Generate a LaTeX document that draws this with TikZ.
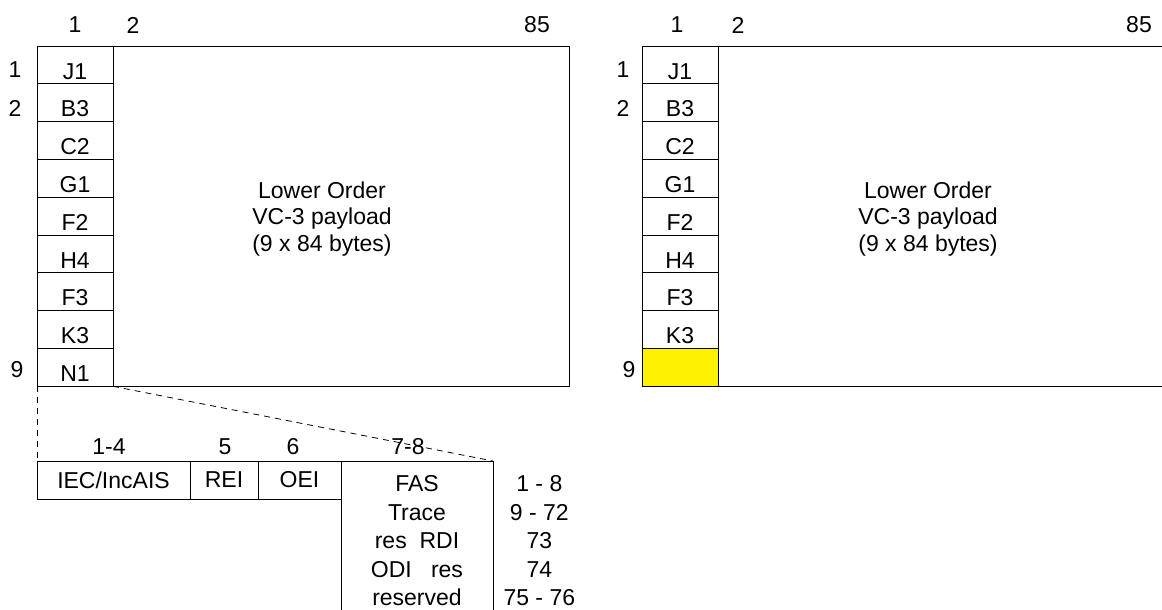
\documentclass[tikz,border=0pt]{standalone}
\usepackage{fontspec}
\setmainfont{Liberation Sans}
\usepackage{tikz}
\usetikzlibrary{positioning}

\begin{document}
\begin{tikzpicture}[
  x=1pt, y=-1pt,
  font=\fontsize{23}{26.5}\selectfont,
  line width=1pt,
  cell/.style={draw, minimum width=76pt, minimum height=37.8pt, text height=28pt, text depth=0pt, inner sep=0pt, outer sep=0pt},
  payload/.style={draw, minimum height=340.2pt, inner sep=0pt, outer sep=0pt, anchor=north west},
  field/.style={draw, minimum height=38pt, inner sep=0pt, outer sep=0pt},
  lines/.style={align=center, inner sep=0pt, font=\fontsize{23}{28.5}\selectfont},
  guide/.style={dash pattern=on 6pt off 5pt, line width=0.8pt}
]
  \useasboundingbox (0,0) rectangle (1162,610);

  % left frame
  \node (l_h1) at (75,25) {1};
  \node (l_h2) at (133,25) {2};
  \node (l_h85) at (537,25) {85};
  \node (l_r1) at (15,70) {1};
  \node (l_r2) at (15,108) {2};
  \node (l_r9) at (17,370) {9};

  \node[cell] (l_j1) at (75,65) {J1};
  \node[cell, below=0pt of l_j1] (l_b3) {B3};
  \node[cell, below=0pt of l_b3] (l_c2) {C2};
  \node[cell, below=0pt of l_c2] (l_g1) {G1};
  \node[cell, below=0pt of l_g1] (l_f2) {F2};
  \node[cell, below=0pt of l_f2] (l_h4) {H4};
  \node[cell, below=0pt of l_h4] (l_f3) {F3};
  \node[cell, below=0pt of l_f3] (l_k3) {K3};
  \node[cell, below=0pt of l_k3] (l_n1) {N1};
  \node[payload, minimum width=456pt] (l_pay) at (l_j1.north east) {};
  \node[align=center] (l_txt) at (322,219) {Lower Order\\VC-3 payload\\(9 x 84 bytes)};

  % right frame
  \node (r_h1) at (677,25) {1};
  \node (r_h2) at (738,25) {2};
  \node (r_h85) at (1139,25) {85};
  \node (r_r1) at (623,70) {1};
  \node (r_r2) at (623,108) {2};
  \node (r_r9) at (629,370) {9};

  \node[cell] (r_j1) at (680,65) {J1};
  \node[cell, below=0pt of r_j1] (r_b3) {B3};
  \node[cell, below=0pt of r_b3] (r_c2) {C2};
  \node[cell, below=0pt of r_c2] (r_g1) {G1};
  \node[cell, below=0pt of r_g1] (r_f2) {F2};
  \node[cell, below=0pt of r_f2] (r_h4) {H4};
  \node[cell, below=0pt of r_h4] (r_f3) {F3};
  \node[cell, below=0pt of r_f3] (r_k3) {K3};
  \node[cell, fill=yellow, below=0pt of r_k3] (r_n1) {};
  \node[payload, minimum width=447pt] (r_pay) at (r_j1.north east) {};
  \node[align=center] (r_txt) at (928,219) {Lower Order\\VC-3 payload\\(9 x 84 bytes)};

  % N1 byte
  \node (l_b14) at (109,447) {1-4};
  \node (l_b5) at (225,447) {5};
  \node (l_b6) at (293,447) {6};
  \node (l_b78) at (408,447) {7-8};

  \node[field, minimum width=153pt, anchor=north west] (l_iec) at (37,461) {IEC/IncAIS};
  \node[field, minimum width=68pt, right=0pt of l_iec] (l_rei) {REI};
  \node[field, minimum width=83pt, right=0pt of l_rei] (l_oei) {OEI};
  \node[draw, lines, minimum width=152pt, minimum height=160pt, outer sep=0pt, anchor=north west] (l_fas) at (l_oei.north east)
    {FAS\\Trace\\res\ \ RDI\\ODI\ \ \ res\\reserved};
  \node[lines, right=10pt of l_fas] (l_bits) {1 - 8\\9 - 72\\73\\74\\75 - 76};

  \draw[guide] (l_n1.south west) -- (l_iec.north west);
  \draw[guide] (l_n1.south east) -- (l_fas.north east);
\end{tikzpicture}
\end{document}
